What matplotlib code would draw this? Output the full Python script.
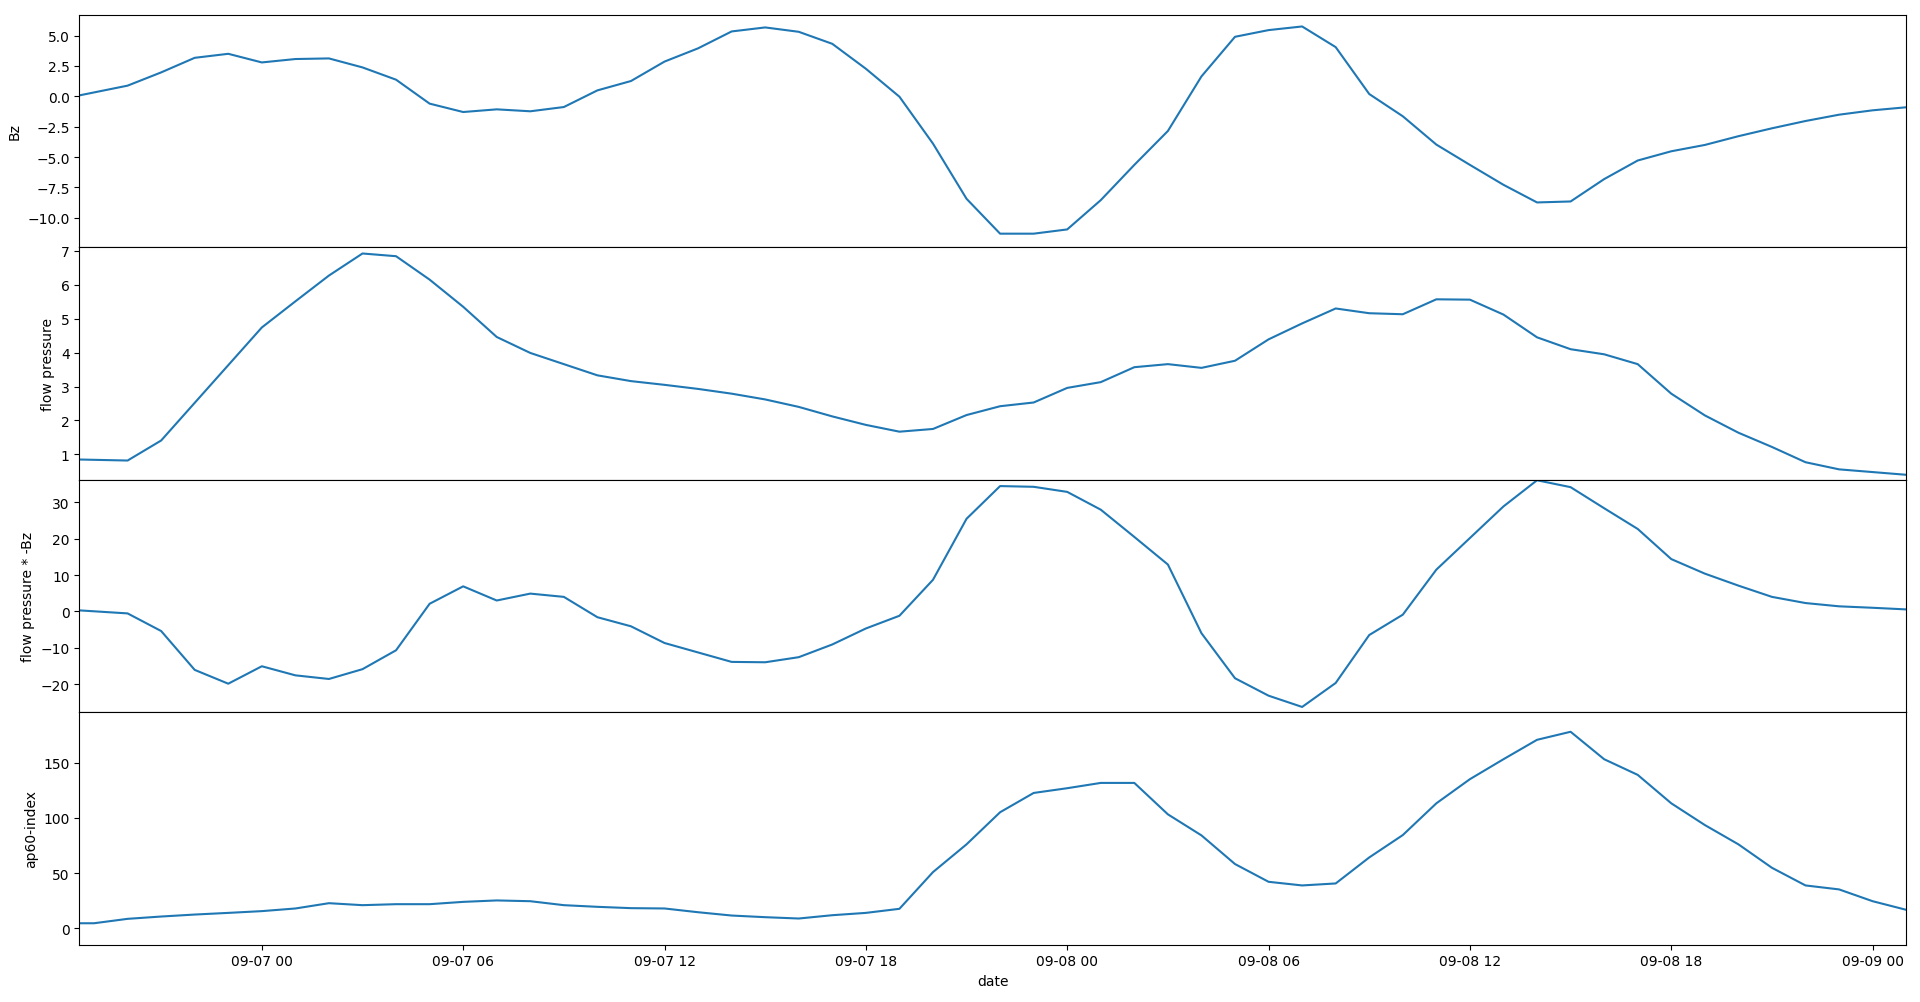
import numpy as np
import pandas as pd
import matplotlib
matplotlib.use("Agg")
import matplotlib.pyplot as plt
import matplotlib.dates as mdates
from matplotlib.ticker import MultipleLocator

# time stamps: one odd first sample, then hourly from 09-06 20:00 to 09-09 01:00
t_first = pd.Timestamp("2017-09-06 18:34")
t_hourly = pd.date_range("2017-09-06 20:00", "2017-09-09 01:00", freq="h")
t_sw = pd.DatetimeIndex([t_first]).append(t_hourly)
t_ap = pd.DatetimeIndex([t_first, pd.Timestamp("2017-09-06 19:00")]).append(t_hourly)

bz = [0.08,
      0.88, 1.97, 3.17, 3.50,
      2.79, 3.07, 3.12, 2.38, 1.37, -0.60, -1.29, -1.07, -1.23, -0.88, 0.49, 1.26,
      2.86, 3.95, 5.34, 5.67, 5.31, 4.32, 2.27, -0.03, -3.89, -8.43, -11.30, -11.30,
      -10.95, -8.54, -5.64, -2.85, 1.64, 4.90, 5.45, 5.75, 4.05, 0.19, -1.64, -3.97,
      -5.64, -7.28, -8.73, -8.65, -6.81, -5.28, -4.52, -4.00, -3.28, -2.63, -2.03, -1.51,
      -1.15, -0.90]

flow_pressure = [0.85,
                 0.82, 1.41, 2.52, 3.63,
                 4.74, 5.51, 6.27, 6.92, 6.84, 6.15, 5.35, 4.46, 3.99, 3.66, 3.33, 3.16,
                 3.05, 2.93, 2.79, 2.62, 2.40, 2.12, 1.87, 1.67, 1.75, 2.16, 2.42, 2.53,
                 2.96, 3.13, 3.57, 3.66, 3.55, 3.76, 4.39, 4.86, 5.30, 5.16, 5.13, 5.57,
                 5.56, 5.12, 4.45, 4.10, 3.95, 3.66, 2.79, 2.15, 1.64, 1.22, 0.77, 0.56,
                 0.48, 0.40]

press_bz = [0.28,
            -0.55, -5.4, -16.1, -19.9,
            -15.1, -17.6, -18.6, -15.9, -10.7, 2.1, 6.9, 3.0, 4.9, 4.0, -1.6, -4.1,
            -8.7, -11.3, -13.9, -14.0, -12.6, -9.1, -4.7, -1.2, 8.7, 25.5, 34.5, 34.3,
            32.9, 28.0, 20.5, 12.9, -6.0, -18.4, -23.2, -26.3, -19.7, -6.5, -0.9, 11.5,
            20.2, 28.9, 36.1, 34.2, 28.4, 22.7, 14.4, 10.4, 7.1, 4.0, 2.3, 1.4,
            1.0, 0.55]

ap60 = [4.5, 4.5,
        8.5, 10.6, 12.4, 13.9,
        15.5, 17.9, 22.7, 20.9, 21.8, 21.8, 23.9, 25.2, 24.5, 20.9, 19.4, 18.2,
        17.9, 14.5, 11.5, 10.0, 8.8, 11.8, 13.9, 17.6, 50.9, 76.1, 105.2, 122.7,
        127.0, 131.8, 131.8, 103.3, 84.2, 58.2, 42.1, 38.8, 40.6, 64.2, 84.5, 113.3,
        135.2, 153.3, 170.9, 178.2, 153.3, 139.1, 113.3, 93.6, 76.1, 54.8, 38.8, 35.2,
        24.5, 16.7]

panels = [
    (t_sw, bz, "Bz", (-12.4, 6.73), 2.5),
    (t_sw, flow_pressure, "flow pressure", (0.26, 7.11), 1),
    (t_sw, press_bz, "flow pressure * -Bz", (-27.7, 36.3), 10),
    (t_ap, ap60, "ap60-index", (-14.8, 196.1), 50),
]

fig, axes = plt.subplots(4, 1, sharex=True, figsize=(19.2, 10.03), dpi=100)
fig.subplots_adjust(left=0.0414, right=0.9928, top=0.9845, bottom=0.0573, hspace=0)

for ax, (t, vals, label, ylim, step) in zip(axes, panels):
    ax.plot(t, vals, color="#1f77b4", lw=1.5)
    ax.set_ylabel(label)
    ax.set_ylim(*ylim)
    ax.yaxis.set_major_locator(MultipleLocator(step))

axes[-1].set_xlim(t_first, t_hourly[-1])
axes[-1].xaxis.set_major_locator(mdates.HourLocator(byhour=range(0, 24, 6)))
axes[-1].xaxis.set_major_formatter(mdates.DateFormatter("%m-%d %H"))
axes[-1].set_xlabel("date")

plt.savefig("out.png", dpi=100)
